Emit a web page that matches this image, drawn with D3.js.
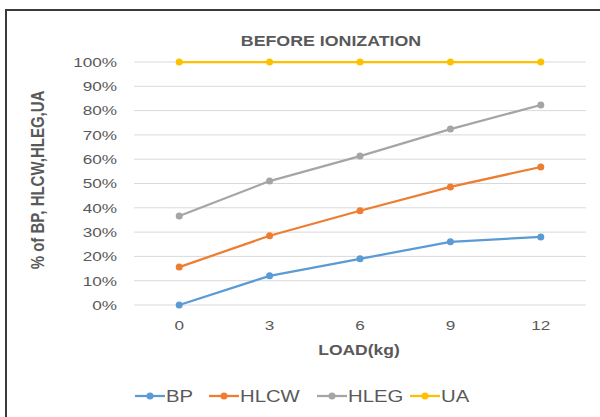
<!DOCTYPE html>
<html><head><meta charset="utf-8">
<script src="https://cdn.jsdelivr.net/npm/d3@7"></script>
<style>body{margin:0;background:#fff}svg{display:block}</style>
</head><body>
<svg id="c" width="600" height="417"></svg>
<script>
const categories = ["0","3","6","9","12"];
const seriesNames = ["BP","HLCW","HLEG","UA"];
const bp   = [0.00, 0.12, 0.19, 0.26, 0.28];
const hlcw = [0.156, 0.285, 0.388, 0.486, 0.568];
const hleg = [0.366, 0.51, 0.613, 0.724, 0.823];
const ua   = [1.0, 1.0, 1.0, 1.0, 1.0];
const yTicks = [0,0.1,0.2,0.3,0.4,0.5,0.6,0.7,0.8,0.9,1.0];
const colors = ["#5b9bd5","#ed7d31","#a5a5a5","#ffc000"];
const allSeries = [bp, hlcw, hleg, ua];

(function(){
const svg = d3.select("#c");
const SX = 1.27;
svg.append("rect").attr("x",0).attr("y",0).attr("width",600).attr("height",417).attr("fill","#fff");
// frame
svg.append("path").attr("d","M6,417 V10 H600").attr("fill","none").attr("stroke","#3a3a3a").attr("stroke-width",2);

const pl=134, pr=586, pt=62, pb=305;
const x = d3.scaleBand().domain(categories).range([pl,pr]);
const y = d3.scaleLinear().domain([0,1]).range([pb,pt]);
const font = "Liberation Sans, Arial, sans-serif";

// gridlines
svg.append("g").selectAll("line").data(yTicks).join("line")
  .attr("x1",pl).attr("x2",pr)
  .attr("y1",d=>y(d)).attr("y2",d=>y(d))
  .attr("stroke","#d9d9d9").attr("stroke-width",1);

// y axis labels
const yAxis = d3.axisLeft(y).tickValues(yTicks).tickFormat(d3.format(".0%")).tickSize(0).tickPadding(0);
const gy = svg.append("g").attr("transform",`translate(${117},0)`).call(yAxis);
gy.select(".domain").remove();
gy.selectAll("text").attr("fill","#595959").attr("font-family",font).attr("font-size","13.5px")
  .attr("transform",`scale(${SX},1)`);

// x axis labels
const xAxis = d3.axisBottom(x).tickSize(0).tickPadding(0);
const gx = svg.append("g").attr("transform",`translate(0,${pb+15})`).call(xAxis);
gx.select(".domain").remove();
gx.selectAll("text").attr("fill","#595959").attr("font-family",font).attr("font-size","13.5px")
  .attr("transform",`scale(${SX},1)`);

// series
const line = d3.line().x((d,i)=>x(categories[i])+x.bandwidth()/2).y(d=>y(d));
allSeries.forEach((s,k)=>{
  svg.append("path").datum(s).attr("d",line).attr("fill","none")
    .attr("stroke",colors[k]).attr("stroke-width",2.25).attr("stroke-linejoin","round");
  svg.append("g").selectAll("circle").data(s).join("circle")
    .attr("cx",(d,i)=>x(categories[i])+x.bandwidth()/2).attr("cy",d=>y(d))
    .attr("r",3.5).attr("fill",colors[k]);
});

// titles
svg.append("text").attr("transform",`translate(331,46) scale(1.27,1)`).attr("text-anchor","middle")
  .attr("font-family",font).attr("font-weight","bold")
  .attr("font-size","14px").attr("fill","#595959").text("BEFORE IONIZATION");
svg.append("text").attr("transform",`translate(359,355) scale(1.25,1)`).attr("text-anchor","middle")
  .attr("font-family",font).attr("font-weight","bold")
  .attr("font-size","14px").attr("fill","#595959").text("LOAD(kg)");
svg.append("text").attr("transform","translate(44,180) rotate(-90) scale(1,1.2)").attr("text-anchor","middle")
  .attr("font-family",font).attr("font-weight","bold")
  .attr("font-size","15px").attr("fill","#595959").text("% of BP, HLCW,HLEG,UA");

// legend
const legX = [135, 209, 317, 410];
const lg = svg.append("g").attr("transform","translate(0,396)");
seriesNames.forEach((n,k)=>{
  const g = lg.append("g").attr("transform",`translate(${legX[k]},0)`);
  g.append("line").attr("x1",0).attr("x2",30).attr("y1",0).attr("y2",0).attr("stroke",colors[k]).attr("stroke-width",2.25);
  g.append("circle").attr("cx",15).attr("cy",0).attr("r",3.5).attr("fill",colors[k]);
  g.append("text").attr("transform",`translate(31,6) scale(${SX},1)`).attr("font-family",font)
    .attr("font-size","16px").attr("fill","#595959").text(n);
});
})();
</script>
</body></html>
